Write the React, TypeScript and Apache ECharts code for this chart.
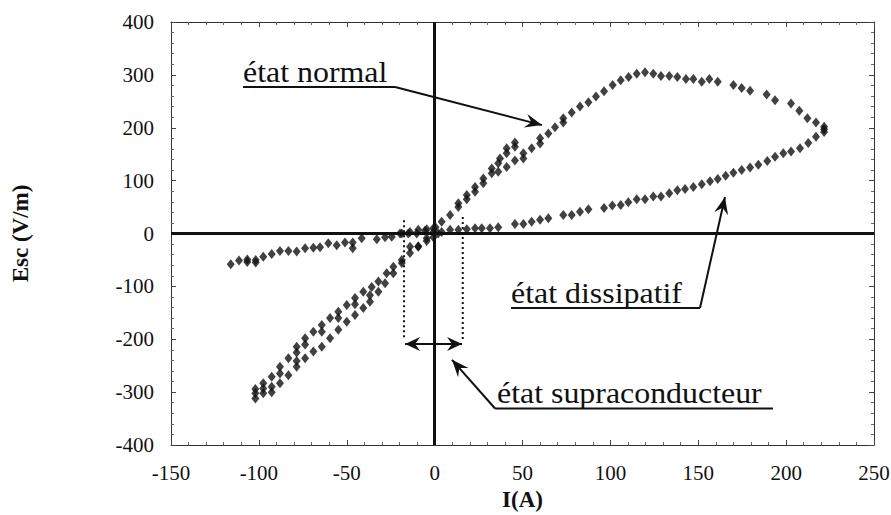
import React, { useEffect, useRef } from 'react';
import * as echarts from 'echarts';

type Pt = [number, number];

// Axis ranges / ticks
const X_MIN = -150, X_MAX = 250, X_STEP = 50;
const Y_MIN = -400, Y_MAX = 400, Y_STEP = 100;

// Normal state branch, negative side (two stacked rows)
const normalNegUpper: Pt[] = [
  [-102, -302], [-97.5, -283], [-92.7, -271], [-88, -252], [-83.2, -236], [-78.5, -214],
  [-73.7, -198], [-69, -186], [-64.2, -173], [-59.5, -160], [-54.8, -148], [-50, -135],
  [-45.3, -122], [-40.6, -110], [-35.8, -101], [-32, -91], [-27.3, -75], [-23.5, -63],
  [-18.7, -50], [-14, -37], [-9.3, -25], [-4.5, -9], [-0.7, 3],
];
const normalNegLower: Pt[] = [
  [-102, -312], [-97.5, -302], [-92.7, -290], [-88, -283], [-83.2, -268], [-78.5, -252],
  [-73.7, -236], [-69, -223], [-64.2, -214], [-59.5, -198], [-54.8, -182], [-50, -167],
  [-45.3, -154], [-40.6, -141], [-36.8, -129], [-32, -110], [-28.2, -94], [-23.5, -75],
  [-18.7, -56],
];
const normalNegExtra: Pt[] = [
  [-102, -294], [-97.5, -293], [-92.7, -300], [-88, -265], [-78.5, -225], [-78.5, -241],
  [-73.7, -210], [-64.2, -186], [-54.8, -160], [-45.3, -134], [-36.8, -117],
];
// Normal state branch, positive side up to the peak
const normalPos: Pt[] = [
  [4, 22], [8.8, 35], [13.5, 50], [13.5, 57], [18.3, 65], [18.3, 73], [23, 79], [23, 88],
  [27.7, 95], [27.7, 104], [32.5, 114], [32.5, 123], [36.2, 117], [36.2, 133], [37.2, 142],
  [41, 126], [41, 152], [41, 161], [45.7, 138], [45.7, 164], [45.7, 172], [50.5, 142],
  [50.5, 152], [55.2, 161], [60, 170], [60, 180], [64.7, 189], [68.5, 201], [73.2, 210],
];
// Top of the loop (peak and descent to the turning point)
const peakBranch: Pt[] = [
  [73.2, 218], [78, 229], [82.7, 240], [87.5, 248], [91.8, 259], [96.4, 269], [101.3, 281],
  [105.9, 290], [110.4, 296], [115, 302], [119.7, 305], [124.4, 302], [128.8, 298],
  [133.5, 298], [138.1, 296], [143, 292], [147.2, 292], [152, 287], [156.3, 292],
  [161.1, 287], [170, 281], [174.7, 275], [179.5, 270], [188.9, 263], [193.7, 252],
  [202.8, 246], [207.5, 232], [212.1, 218], [217, 210], [221.6, 202],
];
// Dissipative branch returning to the origin
const dissipativePos: Pt[] = [
  [221.6, 192], [221.6, 197], [217, 183], [212.6, 171], [207.9, 161], [202.8, 155],
  [198.4, 152], [193.7, 145], [189.3, 137], [184.2, 130], [179.5, 125], [174.7, 120],
  [170, 115], [165.6, 109], [161.1, 103], [156.7, 99], [152, 93], [147.2, 88],
  [142.5, 84], [138.1, 82], [133.5, 76], [128.8, 70], [124.4, 70], [119.7, 65],
  [115, 65], [110.2, 59], [105.9, 54], [101.1, 53], [96.4, 48], [87.5, 46], [82.7, 41],
  [78, 35], [73.2, 35], [64.7, 29], [60, 26], [55.2, 22], [50.5, 18], [45.7, 18],
  [36.2, 12], [31.5, 10], [26.8, 10], [23, 10], [18.3, 8], [13.5, 7], [8.8, 7],
];
// Around the origin (superconducting zone)
const nearOrigin: Pt[] = [
  [4, 3], [-4.5, 8], [-9.3, 7], [-14, 3], [-18.7, 0], [-14, -25], [-9.3, -24],
  [-4.5, -14], [-0.7, -7], [0.5, 12], [2, 0],
];
// Dissipative branch, negative currents
const dissipativeNeg: Pt[] = [
  [-116, -58], [-111.3, -51], [-106.6, -49], [-106.6, -54], [-101.8, -50], [-101.8, -55],
  [-97.5, -44], [-92.7, -39], [-88, -33], [-83.2, -33], [-78.5, -34], [-73.7, -28],
  [-69, -27], [-65.2, -26], [-60.5, -18.5], [-55.7, -22], [-51, -17], [-46.6, -17],
  [-46.6, -28], [-41.5, -9], [-32.9, -11], [-28.2, -7], [-24.4, -6], [-19.7, 0],
  [-15, 0], [-10.2, 0], [-5.5, 5], [-0.7, 10],
];

const LABEL_NORMAL = 'état normal';
const LABEL_DISSIP = 'état dissipatif';
const LABEL_SUPRA = 'état supraconducteur';

const SERIF = 'Liberation Serif, serif';
const INK = '#111111';

export default function App() {
  const ref = useRef<HTMLDivElement>(null);

  useEffect(() => {
    const el = ref.current!;
    const chart = echarts.init(el, undefined, { renderer: 'svg' });

    const mk = (name: string, data: Pt[]) => ({
      type: 'scatter',
      name,
      data,
      symbol: 'diamond',
      symbolSize: [8, 10],
      itemStyle: { color: INK },
      silent: true,
      z: 3,
    });

    const series: any[] = [
      mk('normalNegUpper', normalNegUpper),
      mk('normalNegLower', normalNegLower),
      mk('normalNegExtra', normalNegExtra),
      mk('normalPos', normalPos),
      mk('peakBranch', peakBranch),
      mk('dissipativePos', dissipativePos),
      mk('nearOrigin', nearOrigin),
      mk('dissipativeNeg', dissipativeNeg),
    ];
    series[0].markLine = {
      silent: true,
      symbol: ['none', 'none'],
      label: { show: false },
      lineStyle: { color: INK, width: 3, type: 'solid' },
      data: [{ xAxis: 0 }, { yAxis: 0 }],
      z: 2,
    };

    const axisLabel = { color: '#111', fontFamily: SERIF, fontSize: 21 };
    const frameLine = { show: true, onZero: false, lineStyle: { color: '#333', width: 1 } };
    const tickIn = { show: true, inside: true, length: 5, lineStyle: { color: '#444' } };
    const minorIn = { show: true, splitNumber: 5, length: 3, lineStyle: { color: '#666' } };

    chart.setOption({
      animation: false,
      backgroundColor: '#ffffff',
      grid: {
        left: 171, right: 17, top: 22, bottom: 70,
        containLabel: false, outerBoundsMode: 'none',
      },
      xAxis: [
        {
          type: 'value', min: X_MIN, max: X_MAX, interval: X_STEP, position: 'bottom',
          axisLine: frameLine, axisTick: tickIn, minorTick: minorIn,
          splitLine: { show: false },
          axisLabel: { ...axisLabel, margin: 17 },
          name: 'I(A)', nameLocation: 'middle', nameGap: 43,
          nameTextStyle: { color: '#111', fontFamily: SERIF, fontSize: 23, fontWeight: 'bold' },
        },
        {
          type: 'value', min: X_MIN, max: X_MAX, interval: X_STEP, position: 'top',
          axisLine: frameLine, axisTick: tickIn, minorTick: minorIn,
          splitLine: { show: false }, axisLabel: { show: false },
        },
      ],
      yAxis: [
        {
          type: 'value', min: Y_MIN, max: Y_MAX, interval: Y_STEP, position: 'left',
          axisLine: frameLine, axisTick: tickIn, minorTick: minorIn,
          splitLine: { show: false },
          axisLabel: { ...axisLabel, margin: 17 },
          name: 'Esc (V/m)', nameLocation: 'middle', nameGap: 139, nameRotate: 90,
          nameTextStyle: { color: '#111', fontFamily: SERIF, fontSize: 23, fontWeight: 'bold' },
        },
        {
          type: 'value', min: Y_MIN, max: Y_MAX, interval: Y_STEP, position: 'right',
          axisLine: frameLine, axisTick: tickIn, minorTick: minorIn,
          splitLine: { show: false }, axisLabel: { show: false },
        },
      ],
      series,
    });

    const px = (x: number, y: number): number[] =>
      chart.convertToPixel({ gridIndex: 0 }, [x, y]) as number[];

    const line = (a: number[], b: number[], w = 2, dash?: number[]) => ({
      type: 'line',
      silent: true,
      z: 10,
      shape: { x1: a[0], y1: a[1], x2: b[0], y2: b[1] },
      style: { stroke: INK, lineWidth: w, lineDash: dash },
    });
    const head = (tip: number[], from: number[], len = 17, half = 7, notch = 6) => {
      const dx = tip[0] - from[0], dy = tip[1] - from[1];
      const L = Math.hypot(dx, dy) || 1;
      const ux = dx / L, uy = dy / L;
      const nx = -uy, ny = ux;
      const bx = tip[0] - ux * len, by = tip[1] - uy * len;
      const mx = tip[0] - ux * (len - notch), my = tip[1] - uy * (len - notch);
      return {
        type: 'polygon',
        silent: true,
        z: 11,
        shape: {
          points: [
            [tip[0], tip[1]],
            [bx + nx * half, by + ny * half],
            [mx, my],
            [bx - nx * half, by - ny * half],
          ],
        },
        style: { fill: INK },
      };
    };
    const text = (s: string, p: number[]) => ({
      type: 'text',
      silent: true,
      z: 12,
      x: p[0],
      y: p[1],
      scaleX: 1.1,
      style: {
        text: s,
        fill: INK,
        fontFamily: SERIF,
        fontSize: 29,
        align: 'left',
        verticalAlign: 'middle',
      },
    });

    // Annotation anchors (data coordinates)
    const nText = px(-109, 305);
    const nU1 = px(-109, 277), nU2 = px(-22.5, 277), nTip = px(61.1, 205);
    const dText = px(43.5, -114);
    const dU1 = px(43.5, -141), dU2 = px(151, -141), dTip = px(165.2, 69);
    const sText = px(35.5, -303);
    const sU1 = px(34.4, -331), sU2 = px(192.5, -331), sTip = px(9.9, -239);
    const aL = px(-16.8, -209), aR = px(15.6, -209);
    const vL1 = px(-17.4, 25), vL2 = px(-17.4, -197);
    const vR1 = px(16, 31), vR2 = px(16, -201);

    const graphic: any[] = [
      text(LABEL_NORMAL, nText),
      line(nU1, nU2),
      line(nU2, nTip),
      head(nTip, nU2),
      text(LABEL_DISSIP, dText),
      line(dU1, dU2),
      line(dU2, dTip),
      head(dTip, dU2),
      text(LABEL_SUPRA, sText),
      line(sU1, sU2),
      line(sU1, sTip),
      head(sTip, sU1),
      line(vL1, vL2, 2, [2, 3]),
      line(vR1, vR2, 2, [2, 3]),
      line(aL, aR, 2),
      head(aL, aR, 15, 7, 5),
      head(aR, aL, 15, 7, 5),
    ];
    chart.setOption({ graphic });

    return () => chart.dispose();
  }, []);

  return (
    <div
      ref={ref}
      style={{ position: 'fixed', left: 0, top: 0, width: 891, height: 515, background: '#fff' }}
    />
  );
}
